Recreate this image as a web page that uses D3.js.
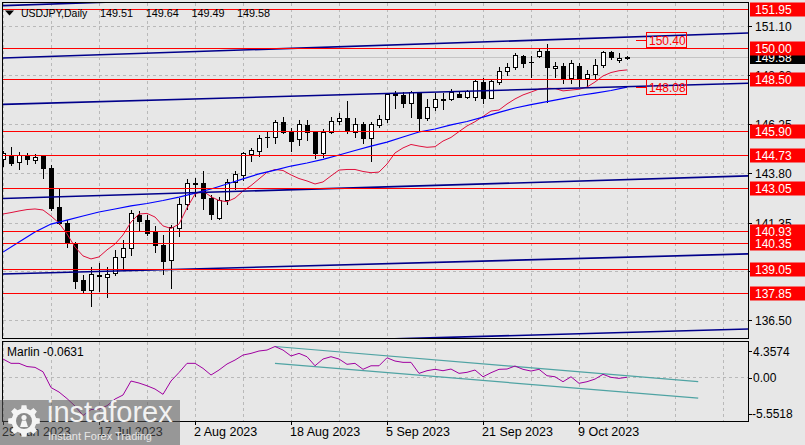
<!DOCTYPE html>
<html><head><meta charset="utf-8">
<script src="https://cdn.jsdelivr.net/npm/d3@7"></script>
<style>
html,body{margin:0;padding:0;background:#e7e7e7;}
svg{display:block;font-family:"Liberation Sans",Arial,sans-serif;}
</style></head><body>
<svg id="c" width="805" height="445"></svg>
<script>
// ---------------- DATA ----------------
const dates = ["2023-06-29","2023-06-30","2023-07-03","2023-07-04","2023-07-05","2023-07-06","2023-07-07","2023-07-10","2023-07-11","2023-07-12","2023-07-13","2023-07-14","2023-07-17","2023-07-18","2023-07-19","2023-07-20","2023-07-21","2023-07-24","2023-07-25","2023-07-26","2023-07-27","2023-07-28","2023-07-31","2023-08-01","2023-08-02","2023-08-03","2023-08-04","2023-08-07","2023-08-08","2023-08-09","2023-08-10","2023-08-11","2023-08-14","2023-08-15","2023-08-16","2023-08-17","2023-08-18","2023-08-21","2023-08-22","2023-08-23","2023-08-24","2023-08-25","2023-08-28","2023-08-29","2023-08-30","2023-08-31","2023-09-01","2023-09-04","2023-09-05","2023-09-06","2023-09-07","2023-09-08","2023-09-11","2023-09-12","2023-09-13","2023-09-14","2023-09-15","2023-09-18","2023-09-19","2023-09-20","2023-09-21","2023-09-22","2023-09-25","2023-09-26","2023-09-27","2023-09-28","2023-09-29","2023-10-02","2023-10-03","2023-10-04","2023-10-05","2023-10-06","2023-10-09","2023-10-10","2023-10-11","2023-10-12","2023-10-13","2023-10-16","2023-10-17"];
const open  = [144.50,144.71,144.35,144.71,144.46,144.67,144.05,142.11,141.32,140.33,138.50,138.01,138.69,138.67,138.83,139.63,140.08,141.73,141.48,140.90,140.24,139.50,141.07,142.26,143.28,143.30,142.56,141.60,142.48,143.35,143.72,144.76,144.92,145.62,145.59,146.33,145.87,145.49,146.20,145.84,144.82,145.87,146.41,146.53,145.87,146.25,145.54,146.20,146.48,147.80,147.69,147.28,147.77,146.56,147.08,147.45,147.48,147.74,147.60,147.60,148.35,147.55,148.35,148.89,149.06,149.62,149.34,149.62,149.89,149.01,149.13,148.52,149.13,148.52,148.73,149.18,149.81,149.43,149.51];
const high  = [144.92,145.09,144.87,144.82,144.76,144.71,144.21,143.01,141.48,140.40,138.75,139.16,139.36,139.16,139.99,140.49,141.98,141.94,141.73,141.18,140.74,141.23,142.56,143.52,143.57,143.91,142.72,142.64,143.52,143.91,144.87,145.04,145.70,145.87,146.46,146.58,146.03,146.46,146.46,145.87,145.99,146.61,146.78,147.39,146.56,146.36,146.36,146.68,147.80,147.90,147.85,147.90,147.85,147.48,147.80,147.80,147.97,147.90,147.94,148.45,148.52,148.43,149.06,149.29,149.76,149.67,149.62,149.96,150.22,149.34,149.26,149.43,149.29,148.93,149.46,149.89,149.89,149.76,149.64];
const low   = [144.16,144.20,144.00,144.25,144.30,143.55,142.00,141.28,140.15,138.09,137.92,137.23,137.96,137.67,138.75,139.08,139.74,140.99,140.74,139.91,138.78,138.09,140.69,142.03,142.67,142.03,141.53,141.53,142.26,143.02,143.47,144.41,144.67,145.12,145.32,145.79,144.91,145.21,145.45,144.54,144.59,145.79,146.25,145.79,145.59,145.32,144.43,146.08,146.36,147.03,147.08,146.61,145.90,146.45,146.94,146.98,147.44,147.57,147.52,147.44,147.30,147.52,148.23,148.68,148.96,149.09,148.57,149.59,147.36,148.60,148.27,148.27,148.13,148.13,148.52,149.09,149.46,149.34,149.49];
const close = [144.82,144.30,144.71,144.50,144.63,144.05,142.06,141.32,140.35,138.47,138.01,138.79,138.76,138.80,139.63,140.08,141.84,141.45,140.85,140.24,139.47,141.15,142.28,143.30,143.32,142.56,141.77,142.48,143.38,143.75,144.79,144.96,145.57,145.60,146.33,145.87,145.40,146.23,145.87,144.79,145.87,146.41,146.53,145.90,146.25,145.54,146.25,146.50,147.74,147.69,147.28,147.84,146.56,147.08,147.48,147.47,147.85,147.60,147.88,148.38,147.55,148.40,148.89,149.06,149.68,149.29,149.32,149.87,149.06,149.13,148.52,149.29,148.52,148.73,149.18,149.84,149.56,149.51,149.58];

const redMA = [141.78,141.85,141.93,142.00,142.03,141.98,141.68,141.33,140.79,140.14,139.70,139.55,139.65,140.00,140.29,140.74,141.38,141.78,141.81,141.63,141.19,141.06,141.28,142.08,142.77,142.92,142.64,142.45,142.39,142.57,142.92,143.19,143.52,143.85,143.99,143.94,143.72,143.54,143.42,143.27,143.37,143.67,143.96,143.99,143.99,143.89,143.83,143.86,144.26,144.81,145.06,145.23,145.15,145.09,145.12,145.40,145.58,145.87,146.15,146.36,146.62,146.89,146.94,147.24,147.49,147.69,147.83,147.98,148.02,148.01,147.89,147.93,147.97,148.08,148.33,148.63,148.80,148.89,148.93];
const blueMAIdx = [0,2,4,6,8,10,12,14,16,18,20,22,24,26,28,30,32,34,36,38,40,42,44,46,48,50,52,54,56,58,60,62,64,66,68,70,72,74,76,78];
const blueMA = [139.89,140.39,140.89,141.28,141.48,141.68,141.88,142.03,142.18,142.30,142.45,142.62,142.82,143.02,143.27,143.52,143.77,143.96,144.16,144.31,144.49,144.71,144.93,145.15,145.35,145.60,145.85,146.00,146.20,146.37,146.59,146.82,147.04,147.21,147.36,147.51,147.66,147.78,147.91,148.08];

const marlin = [2.56,1.94,1.94,1.48,1.36,0.73,-1.54,-2.18,-3.12,-4.19,-5.5518,-4.70,-4.62,-4.15,-3.19,-2.61,-0.60,-0.89,-1.28,-1.75,-2.51,-0.60,0.62,1.94,1.94,1.22,0.26,0.98,1.84,2.41,3.13,3.37,3.71,3.85,4.3574,3.85,2.99,3.37,2.89,1.59,2.56,2.89,2.56,1.80,1.94,1.08,1.59,1.59,2.74,2.27,2.08,2.08,0.50,0.88,1.08,0.88,1.12,0.50,0.65,0.98,0.01,0.59,1.08,1.12,1.55,1.08,0.83,1.08,0.16,0.01,-0.70,0.01,-0.93,-0.70,-0.32,0.36,-0.07,-0.22,-0.0631];

const levels = [151.95,150.00,148.50,145.90,144.73,143.05,140.93,140.35,139.05,137.85];
const priceTicks = [151.10,148.68,146.25,143.80,141.35,138.93,136.50];
const priceTickLabels = ["151.10","148.68","146.25","143.80","141.35","138.93","136.50"];
const dateTickIdx = [0,12,24,36,48,60,72];
const lastPrice = 149.58;
const ohlcTitle = ["149.51","149.64","149.49","149.58"];
const markerLevels = [150.40,148.08];
const marlinTicks = [4.3574,0,-5.5518];
const marlinTickLabels = ["4.3574","0.00","-5.5518"];
const marlinName = "Marlin";
const marlinLast = "-0.0631";
// trend lines: [startIndex, startPrice, endIndex, endPrice]
const channelLines = [
  [0,152.12,93.125,153.36],
  [0,149.52,93.125,150.76],
  [0,147.22,93.125,148.27],
  [0,142.55,93.125,143.67],
  [0,138.80,93.125,139.80],
  [0,135.05,93.125,136.07]
];
const marlinChannel = [
  [34,4.36,86.9,-0.70],
  [34,1.94,86.9,-3.07]
];

// ---------------- LAYOUT ----------------
const svg = d3.select("#c");
const PL=3, PR=748, PT=3, PB=339, IT=342, IB=421;
const x = d3.scaleLinear().domain([0,93.125]).range([PL,PR]);
const y = d3.scaleLinear().domain([135.577,152.251]).range([PB,PT]);
const yi = d3.scaleLinear().domain([-5.5518,4.3574]).range([415.5,346.5]);
const parseD = d3.timeParse("%Y-%m-%d");
const fmtD = d3.timeFormat("%-d %b %Y");
const px = v => Math.round(v)+0.5;

svg.append("rect").attr("width",805).attr("height",445).attr("fill","#e7e7e7");

const defs = svg.append("defs");
defs.append("clipPath").attr("id","cm").append("rect").attr("x",PL).attr("y",PT).attr("width",PR-PL).attr("height",PB-PT);
defs.append("clipPath").attr("id","ci").append("rect").attr("x",PL).attr("y",IT).attr("width",PR-PL).attr("height",IB-IT);

const gm = svg.append("g").attr("clip-path","url(#cm)");
const gi = svg.append("g").attr("clip-path","url(#ci)");

// grid
const gridK = d3.range(0,94,6);
const gridStyle = s => s.attr("stroke","#b9b9b9").attr("stroke-dasharray","3,3").attr("shape-rendering","crispEdges");
gm.selectAll(".vg").data(gridK).join("line").attr("x1",d=>px(x(d))).attr("x2",d=>px(x(d))).attr("y1",PT).attr("y2",PB).call(gridStyle);
gm.selectAll(".hg").data(priceTicks).join("line").attr("x1",PL).attr("x2",PR).attr("y1",d=>px(y(d))).attr("y2",d=>px(y(d))).call(gridStyle);
gi.selectAll(".vg").data(gridK).join("line").attr("x1",d=>px(x(d))).attr("x2",d=>px(x(d))).attr("y1",IT).attr("y2",IB).call(gridStyle);
gi.append("line").attr("x1",PL).attr("x2",PR).attr("y1",px(yi(0))).attr("y2",px(yi(0))).call(gridStyle);

// bid line
gm.append("line").attr("x1",PL).attr("x2",PR).attr("y1",px(y(lastPrice))).attr("y2",px(y(lastPrice)))
  .attr("stroke","#c4c4c4").attr("shape-rendering","crispEdges");

// candles
const idx = d3.range(close.length);
const cg = gm.append("g");
idx.forEach(i=>{
  const xc = Math.round(x(i));
  cg.append("line").attr("x1",xc+0.5).attr("x2",xc+0.5).attr("y1",Math.round(y(high[i]))).attr("y2",Math.round(y(low[i]))+1)
    .attr("stroke","#000").attr("shape-rendering","crispEdges");
  const top = Math.round(y(Math.max(open[i],close[i])));
  const bot = Math.round(y(Math.min(open[i],close[i])));
  if (bot-top < 1) {
    cg.append("line").attr("x1",xc-2).attr("x2",xc+3).attr("y1",top+0.5).attr("y2",top+0.5)
      .attr("stroke","#000").attr("shape-rendering","crispEdges");
  } else {
    cg.append("rect").attr("x",xc-1.5).attr("y",top+0.5).attr("width",4).attr("height",bot-top)
      .attr("fill",close[i]>=open[i]?"#fff":"#000").attr("stroke","#000").attr("shape-rendering","crispEdges");
  }
});

// moving averages
gm.append("path").datum(redMA).attr("fill","none").attr("stroke","#e0103c").attr("stroke-width",1)
  .attr("d",d3.line().x((d,i)=>x(i)).y(d=>y(d)));
gm.append("path").datum(blueMA).attr("fill","none").attr("stroke","#0000ff").attr("stroke-width",1.2)
  .attr("d",d3.line().x((d,i)=>x(blueMAIdx[i])).y(d=>y(d)));

// channel lines
gm.selectAll(".ch").data(channelLines).join("line")
  .attr("x1",d=>x(d[0])).attr("y1",d=>y(d[1])).attr("x2",d=>x(d[2])).attr("y2",d=>y(d[3]))
  .attr("stroke","#00008b").attr("stroke-width",1.6);

// horizontal levels
gm.selectAll(".lv").data(levels).join("line").attr("x1",PL).attr("x2",PR)
  .attr("y1",d=>px(y(d))).attr("y2",d=>px(y(d))).attr("stroke","#ff0000").attr("stroke-width",1.2).attr("shape-rendering","crispEdges");

// marker labels
markerLevels.forEach(v=>{
  const yy = px(y(v));
  gm.append("line").attr("x1",636).attr("x2",647).attr("y1",yy).attr("y2",yy).attr("stroke","#ff0000").attr("shape-rendering","crispEdges");
  gm.append("rect").attr("x",646.5).attr("y",yy-8).attr("width",40).attr("height",15).attr("fill","none").attr("stroke","#ff0000").attr("shape-rendering","crispEdges");
  gm.append("text").attr("x",649).attr("y",yy+4.5).attr("fill","#ff0000").attr("font-size",12).text(v.toFixed(2));
});

// borders
svg.append("rect").attr("x",2.5).attr("y",2.5).attr("width",746).attr("height",336).attr("fill","none").attr("stroke","#000").attr("shape-rendering","crispEdges");
svg.append("rect").attr("x",2.5).attr("y",341.5).attr("width",746).attr("height",79.5).attr("fill","none").attr("stroke","#000").attr("shape-rendering","crispEdges");

// right axis: ticks + labels
const ax = svg.append("g");
priceTicks.forEach((v,i)=>{
  const yy = px(y(v));
  ax.append("line").attr("x1",748).attr("x2",752).attr("y1",yy).attr("y2",yy).attr("stroke","#000").attr("shape-rendering","crispEdges");
  ax.append("text").attr("x",755).attr("y",yy+4.3).attr("font-size",12).attr("fill","#000").text(priceTickLabels[i]);
});
// last price label
{
  const yy = y(lastPrice);
  ax.append("rect").attr("x",750).attr("y",Math.round(yy)-7).attr("width",55).attr("height",14).attr("fill","#000");
  ax.append("text").attr("x",755).attr("y",Math.round(yy)+4.5).attr("font-size",12).attr("fill","#fff").text(lastPrice.toFixed(2));
}
levels.forEach(v=>{
  const yy = Math.round(y(v));
  ax.append("rect").attr("x",750).attr("y",yy-6.5).attr("width",55).attr("height",14).attr("fill","#ff0000");
  ax.append("text").attr("x",755).attr("y",yy+5).attr("font-size",12).attr("fill","#fff").text(v.toFixed(2));
});

// indicator
gi.selectAll(".mch").data(marlinChannel).join("line")
  .attr("x1",d=>x(d[0])).attr("y1",d=>yi(d[1])).attr("x2",d=>x(d[2])).attr("y2",d=>yi(d[3]))
  .attr("stroke","#4fa3a3").attr("stroke-width",1.2);
gi.append("path").datum(marlin).attr("fill","none").attr("stroke","#a000a0").attr("stroke-width",1)
  .attr("d",d3.line().x((d,i)=>x(i)).y(d=>yi(d)));
svg.append("text").attr("x",7).attr("y",355.5).attr("font-size",12).attr("fill","#000").text(marlinName+" "+marlinLast);
const mOff = [4.5,4.3,3.5];
marlinTicks.forEach((v,i)=>{
  const yy = yi(v);
  const ly = i===0 ? 351 : (i===1 ? px(yi(0)) : 414);
  ax.append("line").attr("x1",748).attr("x2",752).attr("y1",px(ly)).attr("y2",px(ly)).attr("stroke","#000").attr("shape-rendering","crispEdges");
  ax.append("text").attr("x",i===2?752:753).attr("y",ly+mOff[i]).attr("font-size",12).attr("fill","#000").text(marlinTickLabels[i]);
});

// date axis
dateTickIdx.forEach(k=>{
  const xx = px(x(k));
  svg.append("line").attr("x1",xx).attr("x2",xx).attr("y1",421).attr("y2",425).attr("stroke","#000").attr("shape-rendering","crispEdges");
  svg.append("text").attr("x",xx-1.5).attr("y",436).attr("font-size",12.5).attr("fill","#000").text(fmtD(parseD(dates[k])));
});

// title
svg.append("path").attr("d","M5,10.5 L14,10.5 L9.5,15.5 Z").attr("fill","#000");
svg.append("text").attr("x",21).attr("y",17).attr("font-size",10.5).attr("fill","#000").text("USDJPY,Daily");
ohlcTitle.forEach((t,i)=>{
  svg.append("text").attr("x",100+i*45.7).attr("y",17).attr("font-size",10.8).attr("fill","#000").text(t);
});

// watermark logo
const lg = svg.append("g");
lg.append("rect").attr("x",0).attr("y",400).attr("width",180).attr("height",45).attr("fill","rgba(85,85,85,0.55)");
{
  const cx=24, cy=421, ro=16, ri=12.5, n=8;
  let pts=[];
  for(let t=0;t<n;t++){
    const a0=(t/n)*2*Math.PI;
    const w=Math.PI/n*0.55;
    pts.push([a0-w*1.1,ri],[a0-w*0.7,ro],[a0+w*0.7,ro],[a0+w*1.1,ri]);
  }
  const d = pts.map((p,j)=>(j?"L":"M")+(cx+p[1]*Math.cos(p[0])).toFixed(2)+","+(cy+p[1]*Math.sin(p[0])).toFixed(2)).join("")+"Z";
  lg.append("path").attr("d",d).attr("fill","#f4f4f4");
  lg.append("circle").attr("cx",cx).attr("cy",cy).attr("r",8).attr("fill","#8a8a8a");
  lg.append("circle").attr("cx",cx).attr("cy",cy-3.5).attr("r",2.6).attr("fill","#f4f4f4");
  lg.append("path").attr("d",`M${cx-4},${cy+6} L${cx-2},${cy-0.5} L${cx+2},${cy-0.5} L${cx+4},${cy+6} Z`).attr("fill","#f4f4f4");
}
lg.append("text").attr("x",47).attr("y",422).attr("font-size",29).attr("fill","#f2f2f2").text("instaforex");
lg.append("text").attr("x",48).attr("y",440).attr("font-size",11).attr("fill","#e6e6e6").text("Instant Forex Trading");
</script>
</body></html>
